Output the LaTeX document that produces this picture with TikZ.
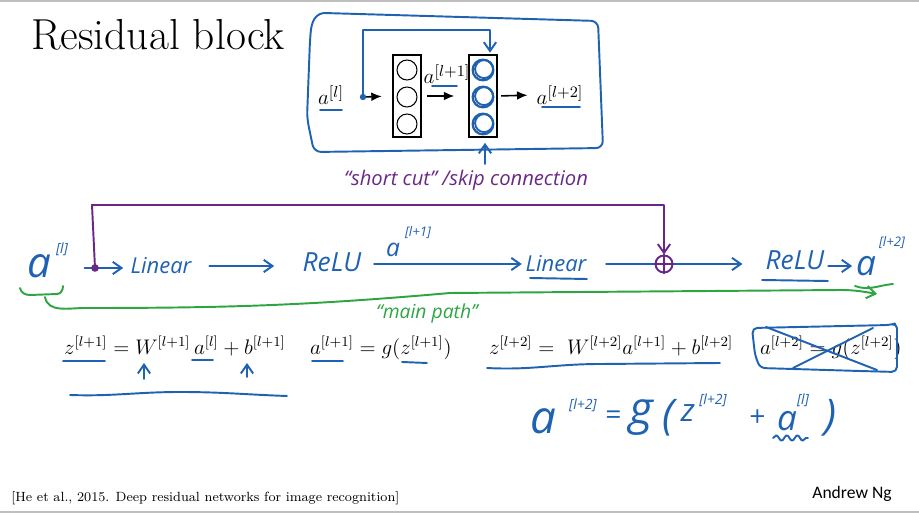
\documentclass[tikz,border=0pt]{standalone}
\usepackage{fontspec}
\newfontfamily\hand{Open Sans}
\newfontfamily\slidesans{Carlito}
\usetikzlibrary{arrows.meta,positioning,decorations.pathmorphing}

\definecolor{penblue}{RGB}{31,98,178}
\definecolor{penpurple}{RGB}{105,40,135}
\definecolor{pengreen}{RGB}{45,165,65}

\tikzset{
	pen/.style={penblue, line width=1.1pt, line cap=round, line join=round},
	penp/.style={penpurple, line width=1.1pt, line cap=round, line join=round},
	peng/.style={pengreen, line width=1.1pt, line cap=round, line join=round},
	barb/.style={-{Straight Barb[length=5pt,width=7pt]}},
	arr/.style={-{Latex[length=6pt,width=5pt]}, line width=0.9pt},
	layer/.style={draw, line width=0.7pt, minimum width=0.56cm, minimum height=1.64cm, inner sep=0pt},
	unit/.style={circle, draw, line width=0.6pt, minimum size=0.4cm, inner sep=0pt},
	sumnode/.style={circle, draw=penpurple, line width=1.1pt, minimum size=0.34cm, inner sep=0pt},
	eqtxt/.style={font=\fontsize{12}{14}\selectfont, inner sep=1pt},
	toplbl/.style={font=\fontsize{13}{15}\selectfont, inner sep=1pt},
	handtxt/.style={font=\hand\itshape\fontsize{#1}{#1}\selectfont, text=penblue, inner sep=0pt},
	handtxt/.default=14,
	slideedge/.style={black!25, line width=1.4pt},
}

\begin{document}
\begin{tikzpicture}[x=0.02cm, y=-0.02cm]
	\useasboundingbox (0,0) rectangle (919,513);
	\draw[slideedge] (0,1) -- (919,1);
	\draw[slideedge] (0,512) -- (919,512);

	\node[anchor=base west, font=\fontsize{24.7}{30}\selectfont] (title) at (25,50) {Residual block};

	% top sketch
	\draw[pen, rounded corners=4] (324,13) -- (598,21) -- (603,148) -- (314,152) -- (307,118) -- (310,40) to[out=85,in=185] (324,13);
	\node[toplbl] (al) at (331,95) {$a^{[l]}$};
	\coordinate (split) at (363,97);
	\node[layer] (L1) at (407,96) {};
	\node[layer] (L2) at (483,96) {};
	\foreach \n/\y in {a/70,b/97,c/124} {
		\node[unit] (u1\n) at (407,\y) {};
		\node[unit] (u2\n) at (483,\y) {};
		\draw[pen] (u2\n.center) circle (10.5);
		\draw[pen] ([xshift=0.6pt,yshift=0.5pt]u2\n.center) circle (9);
	}
	\node[toplbl] (al1) at (447,74) {$a^{[l+1]}$};
	\node[toplbl] (al2) at (560,95) {$a^{[l+2]}$};
	\draw[arr, shorten >=6pt] (split) -- (L1.west);
	\draw[arr, shorten <=3pt, shorten >=8pt] (L1.east) -- (L2.west);
	\draw[arr, shorten <=2pt, shorten >=4pt] (L2.east) -- (al2.west);
	\coordinate (skiptop) at (490,30);
	\draw[pen, barb, shorten >=1pt] (split) |- (skiptop) -- (skiptop |- L2.north);
	\fill[penblue] (split) circle (3.2);
	\draw[pen] (320,110) -- (342,110);
	\draw[pen] (432,86) -- (457,86);
	\draw[pen] (542,107) -- (580,107);
	\coordinate (ptr) at (485,164);
	\draw[pen, barb, shorten >=3pt] (ptr) -- (ptr |- L2.south);
	\node[font=\hand\itshape\fontsize{11.5}{13}\selectfont, text=penpurple] (skiplbl) at (466,180) {“short cut” /skip connection};

	% main path
	\node[handtxt=24] (a0) at (39,266) {a};
	\node[handtxt=8] (a0s) at (62,249) {[l]};
	\node[handtxt=12.5] (lin1) at (161,266) {Linear};
	\node[handtxt=15] (relu1) at (332,262) {ReLU};
	\node[handtxt=14] (amid) at (393,250) {a};
	\node[handtxt=7.5] (amids) at (418,233) {[l+1]};
	\node[handtxt=12.5] (lin2) at (556,264) {Linear};
	\node[sumnode] (plus) at (664,264) {};
	\node[handtxt=15] (relu2) at (795,260) {ReLU};
	\node[handtxt=20] (a2) at (866,266) {a};
	\node[handtxt=7.5] (a2s) at (892,243) {[l+2]};
	\coordinate (tap) at (95,268);

	\draw[pen, barb, shorten <=19pt, shorten >=4pt] (a0.east |- tap) -- (lin1.west |- tap);
	\draw[pen, barb, shorten <=10pt, shorten >=16pt] (lin1.east) -- (relu1.west |- lin1.east);
	\draw[pen, barb, shorten <=7pt, shorten >=2pt] (relu1.east |- lin2.west) -- (lin2.west);
	\draw[pen, barb, shorten <=11pt, shorten >=13pt] (lin2.east) -- (relu2.west |- lin2.east);
	\draw[pen, barb, shorten <=2pt, shorten >=2pt] (relu2.east |- a2.west) -- (a2.west);
	\draw[penp] (plus.north) -- (plus.south) (plus.west) -- (plus.east);
	\draw[penp, barb] (tap) -- (92,205) -| (plus.north);
	\fill[penpurple] (tap) circle (3.8);
	\draw[pen] (530,278) -- (587,279);
	\draw[pen] (762,280) -- (828,281);

	\draw[peng] (20,288) to[out=-80,in=180] (30,295) -- (57,294) to[out=0,in=-90] (63,286);
	\draw[peng, barb] (45,297) to[out=-80,in=180] (85,308) to[out=0,in=185] (450,293) -- (840,290) to[out=0,in=170] (877,294);
	\draw[peng] (855,286) to[out=-20,in=185] (893,284);
	\node[font=\hand\itshape\fontsize{11}{13}\selectfont, text=pengreen] (mainlbl) at (427,313) {“main path”};

	% equations
	\node[eqtxt, anchor=base west] (eq1) at (62,354) {$z^{[l+1]} = W^{[l+1]}\, a^{[l]} + b^{[l+1]}$};
	\node[eqtxt, anchor=base west] (eq2) at (308,354) {$a^{[l+1]} = g(z^{[l+1]})$};
	\node[eqtxt, anchor=base west] (eq3) at (487,354) {$z^{[l+2]} = \ W^{[l+2]}a^{[l+1]} + b^{[l+2]}$};
	\node[eqtxt, anchor=base west] (eq4) at (758,354) {$a^{[l+2]} = g(z^{[l+2]})$};
	\draw[pen] (63,361) -- (105,361);
	\draw[pen] (192,360) -- (213,360);
	\draw[pen] (312,361) -- (343,361);
	\draw[pen] (402,362) -- (427,363);
	\draw[pen, barb] (144,379) -- (144,363);
	\draw[pen, barb] (247,377) -- (247,363);
	\draw[pen] (70,395) to[out=-2,in=180] (180,392) to[out=0,in=178] (287,396);
	\draw[pen] (487,368) to[out=-3,in=180] (600,364) -- (720,363);
	\draw[pen, rounded corners=3] (752,328) -- (890,325) -- (897,323) -- (897,372) -- (860,371) -- (760,368) -- (755,355) -- cycle;
	\draw[pen] (766,327) -- (877,370);
	\draw[pen] (793,368) -- (873,328);

	% handwritten result
	\node[handtxt=26] (ha) at (543,421) {a};
	\node[handtxt=8] (has) at (583,405) {[l+2]};
	\node[handtxt=16] (heq) at (613,418) {=};
	\node[handtxt=26] (hg) at (641,418) {g};
	\node[handtxt=24] (hl) at (668,418) {(};
	\node[handtxt=18] (hz) at (688,413) {z};
	\node[handtxt=8] (hzs) at (713,400) {[l+2]};
	\node[handtxt=16] (hp) at (757,418) {+};
	\node[handtxt=20] (ha2) at (787,421) {a};
	\node[handtxt=8] (ha2s) at (803,400) {[l]};
	\node[handtxt=24] (hr) at (830,418) {)};
	\draw[pen, decorate, decoration={snake, amplitude=1.5pt, segment length=6pt}] (773,438) -- (808,438);

	% footer
	\node[anchor=base west, font=\fontsize{7.6}{9}\selectfont, inner sep=0pt] (cite) at (11,501) {[He et al., 2015. Deep residual networks for image recognition]};
	\node[anchor=base east, font=\slidesans\fontsize{10}{12}\selectfont, inner sep=0pt] (author) at (892,498) {Andrew Ng};
\end{tikzpicture}
\end{document}
